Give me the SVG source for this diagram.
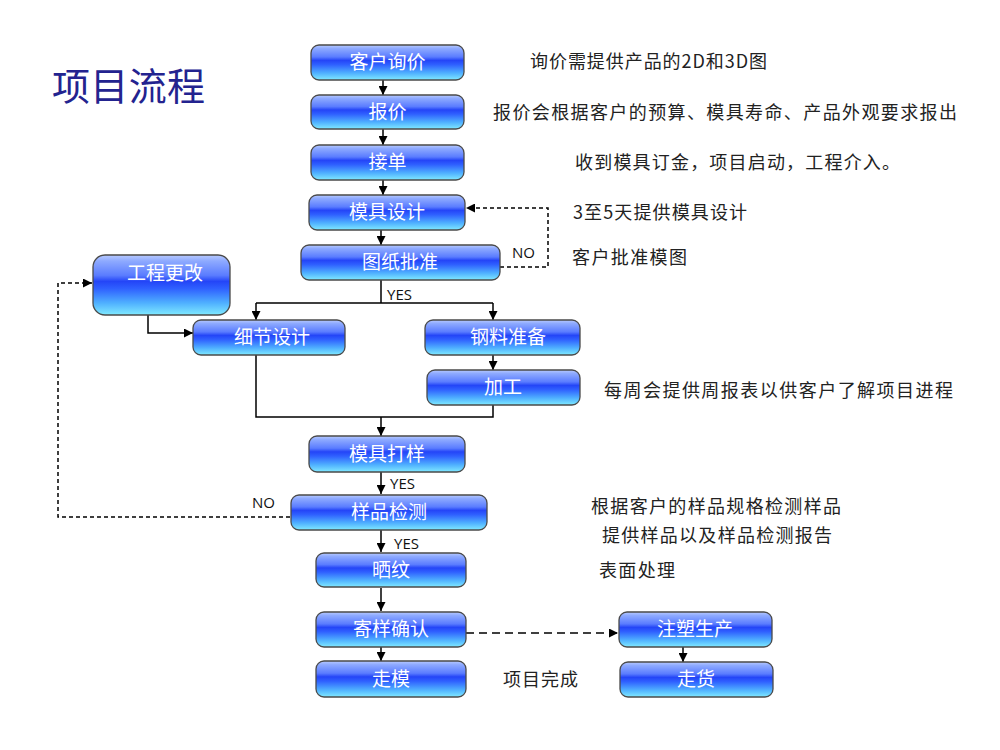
<svg xmlns="http://www.w3.org/2000/svg" width="1000" height="750" viewBox="0 0 1000 750">
<defs>
<linearGradient id="nodeGrad" x1="0" y1="0" x2="0" y2="1">
<stop offset="0" stop-color="#b8caff"/>
<stop offset="0.1" stop-color="#8eaaff"/>
<stop offset="0.34" stop-color="#5a7cff"/>
<stop offset="0.44" stop-color="#2445f7"/>
<stop offset="0.56" stop-color="#2f60ff"/>
<stop offset="0.8" stop-color="#4fb0ff"/>
<stop offset="1" stop-color="#80eaff"/>
</linearGradient>
<marker id="arrw" viewBox="0 0 10 10" refX="10" refY="5" markerWidth="9" markerHeight="9" markerUnits="userSpaceOnUse" orient="auto">
<path d="M0,0 L10,5 L0,10 z" fill="#000"/>
</marker>
</defs>
<style>
.box{fill:url(#nodeGrad);stroke:#4a4a4a;stroke-width:1.3}
.lbl{font-family:"Noto Sans CJK SC","Noto Sans",sans-serif;font-size:19px;fill:#ffffff;text-anchor:middle}
.desc{font-family:"Noto Sans CJK SC","Noto Sans",sans-serif;font-size:18px;fill:#222222}
.yn{font-family:"Open Sans","Liberation Sans",sans-serif;font-size:15px;fill:#111111}
.ln{fill:none;stroke:#000;stroke-width:1.5}
.sol{marker-end:url(#arrw)}
.dash{stroke-dasharray:4 3}
.dash2{stroke-dasharray:8 5}
</style>
<rect width="1000" height="750" fill="#ffffff"/>
<text x="52" y="100" font-family="Noto Sans CJK SC,sans-serif" font-size="38" fill="#23238f" textLength="153" lengthAdjust="spacing">项目流程</text>

<g id="connectors">
<path class="ln sol" d="M383,80 V95"/>
<path class="ln sol" d="M383,129 V145"/>
<path class="ln sol" d="M383,180 V195"/>
<path class="ln sol" d="M381,230 V245"/>
<path class="ln" d="M381,280 V303 M256,303 H493"/>
<path class="ln sol" d="M256,303 V320"/>
<path class="ln sol" d="M493,303 V320"/>
<path class="ln sol" d="M493,355 V370"/>
<path class="ln" d="M256,355 V417 H493 V405"/>
<path class="ln sol" d="M381,417 V436"/>
<path class="ln sol" d="M148,315 V333 H193"/>
<path class="ln dash sol" d="M500,267 H548 V208 H466"/>
<path class="ln dash sol" d="M290,517 H58 V283 H92"/>
<path class="ln sol" d="M381,472 V494"/>
<path class="ln sol" d="M381,530 V552"/>
<path class="ln sol" d="M381,588 V611"/>
<path class="ln sol" d="M381,647 V661"/>
<path class="ln dash2 sol" d="M466,633 H618"/>
<path class="ln sol" d="M683,647 V662"/>
<text class="yn" x="387" y="300">YES</text>
<text class="yn" x="512" y="258">NO</text>
<text class="yn" x="252" y="508">NO</text>
<text class="yn" x="390" y="489">YES</text>
<text class="yn" x="394" y="549">YES</text>
</g>

<g id="n1"><rect class="box" x="311" y="45" width="153" height="35" rx="8"/><text class="lbl" x="387.5" y="69">客户询价</text></g>
<g id="n2"><rect class="box" x="311" y="95" width="153" height="34" rx="8"/><text class="lbl" x="387.5" y="119">报价</text></g>
<g id="n3"><rect class="box" x="311" y="145" width="153" height="35" rx="8"/><text class="lbl" x="387.5" y="169">接单</text></g>
<g id="n4"><rect class="box" x="309" y="195" width="156" height="35" rx="8"/><text class="lbl" x="387" y="219">模具设计</text></g>
<g id="n5"><rect class="box" x="301" y="245" width="199" height="35" rx="8"/><text class="lbl" x="400" y="269">图纸批准</text></g>
<g id="n6"><rect class="box" x="93" y="255" width="137" height="60" rx="12"/><text class="lbl" x="165" y="280">工程更改</text></g>
<g id="n7"><rect class="box" x="193" y="320" width="152" height="35" rx="8"/><text class="lbl" x="272" y="344">细节设计</text></g>
<g id="n8"><rect class="box" x="425" y="320" width="155" height="35" rx="8"/><text class="lbl" x="508" y="344">钢料准备</text></g>
<g id="n9"><rect class="box" x="427" y="370" width="153" height="35" rx="8"/><text class="lbl" x="503" y="394">加工</text></g>
<g id="n10"><rect class="box" x="309" y="436" width="156" height="36" rx="8"/><text class="lbl" x="387" y="461">模具打样</text></g>
<g id="n11"><rect class="box" x="291" y="495" width="196" height="35" rx="8"/><text class="lbl" x="389" y="519">样品检测</text></g>
<g id="n12"><rect class="box" x="316" y="553" width="150" height="34" rx="8"/><text class="lbl" x="391" y="577">晒纹</text></g>
<g id="n13"><rect class="box" x="316" y="612" width="150" height="35" rx="8"/><text class="lbl" x="391" y="636">寄样确认</text></g>
<g id="n14"><rect class="box" x="316" y="661" width="150" height="36" rx="8"/><text class="lbl" x="391" y="686">走模</text></g>
<g id="n15"><rect class="box" x="619" y="612" width="153" height="35" rx="8"/><text class="lbl" x="695" y="636">注塑生产</text></g>
<g id="n16"><rect class="box" x="620" y="662" width="153" height="35" rx="8"/><text class="lbl" x="696" y="686">走货</text></g>

<g id="notes">
<text class="desc" x="530" y="68" textLength="237" lengthAdjust="spacing">询价需提供产品的2D和3D图</text>
<text class="desc" x="493" y="119" textLength="464" lengthAdjust="spacing">报价会根据客户的预算、模具寿命、产品外观要求报出</text>
<text class="desc" x="575" y="169" textLength="325" lengthAdjust="spacing">收到模具订金，项目启动，工程介入。</text>
<text class="desc" x="573" y="219" textLength="174" lengthAdjust="spacing">3至5天提供模具设计</text>
<text class="desc" x="572" y="264" textLength="115" lengthAdjust="spacing">客户批准模图</text>
<text class="desc" x="604" y="397" textLength="349" lengthAdjust="spacing">每周会提供周报表以供客户了解项目进程</text>
<text class="desc" x="591" y="513" textLength="250" lengthAdjust="spacing">根据客户的样品规格检测样品</text>
<text class="desc" x="602" y="542" textLength="230" lengthAdjust="spacing">提供样品以及样品检测报告</text>
<text class="desc" x="599" y="577" textLength="76" lengthAdjust="spacing">表面处理</text>
<text class="desc" x="503" y="686" textLength="75" lengthAdjust="spacing">项目完成</text>
</g>
</svg>
